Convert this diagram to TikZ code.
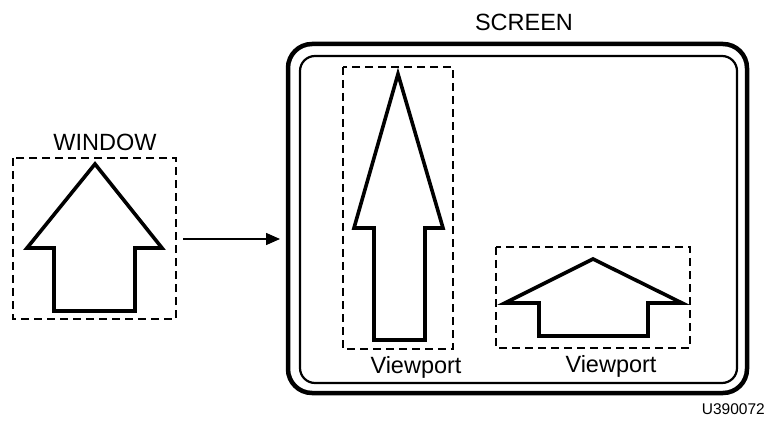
\documentclass[tikz,border=0pt]{standalone}
\usepackage{fontspec}
\setmainfont{Liberation Sans}
\usetikzlibrary{arrows.meta}
\begin{document}
\begin{tikzpicture}[x=1pt,y=-1pt,
  vbox/.style={draw, line width=1.6pt, dash pattern=on 8pt off 5pt},
  arrowshape/.style={draw, line width=3.6pt, line join=miter, miter limit=5},
  lbl/.style={font=\fontsize{23.5}{23.5}\selectfont, inner sep=0pt},
]
\useasboundingbox (0,0) rectangle (766,422);
% window
\draw[vbox] (13,158) rectangle (176,319);
\node[lbl] (wl) at (105,142) {WINDOW};
\draw[arrowshape] (95,164) -- (162,248) -- (135,248) -- (135,311) -- (54,311) -- (54,248) -- (27,248) -- cycle;
\coordinate (wr) at (183,239);
\coordinate (sl) at (280,239);
\draw[line width=1.6pt, -{Triangle[length=14pt,width=12pt]}] (wr) -- (sl);
% screen
\node[lbl] (sc) at (524,22) {SCREEN};
\draw[line width=4.5pt, rounded corners=24pt] (288,44) rectangle (747,393);
\draw[line width=2.2pt, rounded corners=15pt] (300,56) rectangle (737,383);
% viewport 1
\draw[vbox] (343,67) rectangle (453,349);
\draw[arrowshape] (398,74) -- (443,228) -- (425,228) -- (425,340) -- (374,340) -- (374,228) -- (354,228) -- cycle;
\node[lbl] (v1) at (416,367) {Viewport};
% viewport 2
\draw[vbox] (496,247) rectangle (690,348);
\draw[arrowshape] (593,259) -- (682,303) -- (648,303) -- (648,336) -- (539,336) -- (539,303) -- (505,303) -- cycle;
\node[lbl] (v2) at (611,366) {Viewport};
\node[font=\fontsize{15.5}{15.5}\selectfont, inner sep=0pt, anchor=east] (id) at (765,409) {U390072};
\end{tikzpicture}
\end{document}
